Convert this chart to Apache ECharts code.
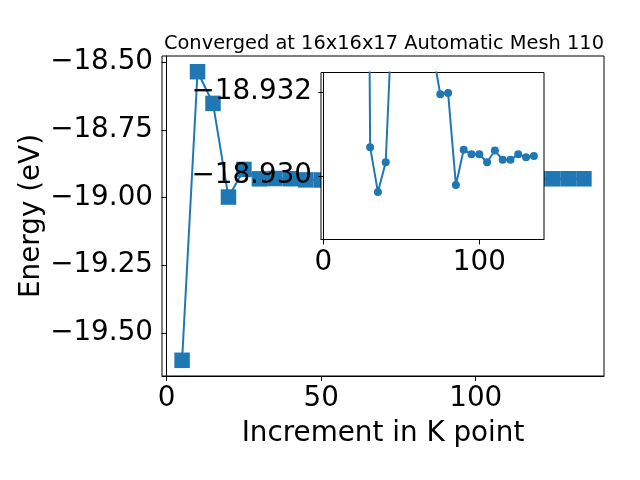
<!DOCTYPE html>
<html>
<head>
<meta charset="utf-8">
<script src="https://cdn.jsdelivr.net/npm/echarts@6/dist/echarts.min.js"></script>
<style>html,body{margin:0;padding:0;background:#fff}#c{width:640px;height:480px}</style>
</head>
<body>
<div id="c"></div>
<script>
const titleText = 'Converged at 16x16x17 Automatic Mesh 110';
const xName = 'Increment in K point';
const yName = 'Energy (eV)';
const kPoints = [5,10,15,20,25,30,35,40,45,50,55,60,65,70,75,80,85,90,95,100,105,110,115,120,125,130,135];
const mainEnergy = [-19.601,-18.535,-18.652,-18.998,-18.896,-18.93069,-18.92962,-18.93033,-18.9346,-18.9350,-18.9345,-18.9340,-18.9335,-18.9330,-18.93195,-18.93198,-18.92979,-18.93063,-18.93052,-18.93052,-18.93033,-18.93061,-18.93039,-18.93039,-18.93052,-18.93045,-18.93048];
const insetK = [25,30,35,40,45,50,55,60,65,70,75,80,85,90,95,100,105,110,115,120,125,130,135];
const insetEnergy = [-18.960,-18.93069,-18.92962,-18.93033,-18.9346,-18.9350,-18.9345,-18.9340,-18.9335,-18.9330,-18.93195,-18.93198,-18.92979,-18.93063,-18.93052,-18.93052,-18.93033,-18.93061,-18.93039,-18.93039,-18.93052,-18.93045,-18.93048];
const mainXTicks = [0,50,100];
const mainYTicks = [-19.5,-19.25,-19.0,-18.75,-18.5];
const insetXTicks = [0,100];
const insetYTicks = [-18.932,-18.930];

const FONT = 'DejaVu Sans';
const C = '#1f77b4';
const minus = s => s.replace('-', '\u2212');

const chart = echarts.init(document.getElementById('c'), null, {renderer:'canvas'});
chart.setOption({
  animation:false,
  backgroundColor:'#fff',
  title:{text:titleText, left:379, top:29, textAlign:'center',
    textStyle:{fontFamily:FONT,fontSize:19.4,fontWeight:'normal',color:'#000'}},
  grid:[
    {left:162, top:56, width:442, height:320, show:true, borderColor:'#000', borderWidth:1, backgroundColor:'#fff', z:0},
    {left:321, top:72.5, width:223, height:167, show:true, borderColor:'#000', borderWidth:1, backgroundColor:'#fff', z:5}
  ],
  xAxis:[
    {type:'value', gridIndex:0, min:-1.5, max:141.5,
      name:xName, nameLocation:'middle', nameGap:44, nameMoveOverlap:false,
      nameTextStyle:{fontFamily:FONT,fontSize:27.8,color:'#000'},
      axisLine:{show:true,lineStyle:{color:'#000',width:1}},
      axisTick:{show:true,inside:false,length:5,lineStyle:{color:'#000'},customValues:mainXTicks},
      axisLabel:{show:true,margin:9,fontFamily:FONT,fontSize:27.8,color:'#000',customValues:mainXTicks,formatter:v=>minus(String(v))},
      splitLine:{show:false}, z:1},
    {type:'value', gridIndex:1, min:-1.5, max:141.5,
      axisLine:{show:true,lineStyle:{color:'#000',width:1}},
      axisTick:{show:true,inside:false,length:5,lineStyle:{color:'#000'},customValues:insetXTicks},
      axisLabel:{show:true,margin:9,fontFamily:FONT,fontSize:27.8,color:'#000',customValues:insetXTicks,formatter:v=>minus(String(v))},
      splitLine:{show:false}, z:7}
  ],
  yAxis:[
    {type:'value', gridIndex:0, min:-19.659, max:-18.477,
      name:yName, nameLocation:'middle', nameGap:116, nameRotate:90, nameMoveOverlap:false,
      nameTextStyle:{fontFamily:FONT,fontSize:27.8,color:'#000'},
      axisLine:{show:true,lineStyle:{color:'#000',width:1}},
      axisTick:{show:true,inside:false,length:5,lineStyle:{color:'#000'},customValues:mainYTicks},
      axisLabel:{show:true,margin:9,fontFamily:FONT,fontSize:27.8,color:'#000',customValues:mainYTicks,formatter:v=>minus(v.toFixed(2))},
      splitLine:{show:false}, z:1},
    {type:'value', gridIndex:1, inverse:true, min:-18.93247, max:-18.92849,
      axisLine:{show:true,lineStyle:{color:'#000',width:1}},
      axisTick:{show:true,inside:false,length:5,lineStyle:{color:'#000'},customValues:insetYTicks},
      axisLabel:{show:true,margin:9,fontFamily:FONT,fontSize:27.8,color:'#000',customValues:insetYTicks,formatter:v=>minus(v.toFixed(3))},
      splitLine:{show:false}, z:7}
  ],
  series:[
    {type:'line', xAxisIndex:0, yAxisIndex:0, z:1,
      data:kPoints.map((k,i)=>[k,mainEnergy[i]]),
      symbol:'rect', symbolSize:15.5, lineStyle:{color:C,width:2}, itemStyle:{color:C}},
    {type:'line', xAxisIndex:1, yAxisIndex:1, z:6, clip:true,
      data:insetK.map((k,i)=>[k,insetEnergy[i]]),
      symbol:'circle', symbolSize:8, lineStyle:{color:C,width:2}, itemStyle:{color:C}}
  ]
});
</script>
</body>
</html>
